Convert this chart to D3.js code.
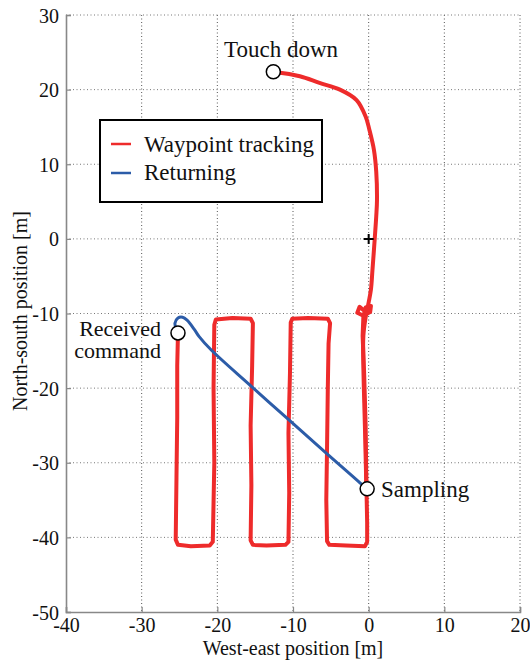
<!DOCTYPE html>
<html>
<head>
<meta charset="utf-8">
<script src="https://cdn.jsdelivr.net/npm/d3@7"></script>
<style>
  body { margin: 0; background: #fff; }
  text { font-family: "Liberation Serif", "Times New Roman", serif; fill: #111; }
</style>
</head>
<body>
<div id="container"></div>
<script>
// tick values
const xTicks = [-40, -30, -20, -10, 0, 10, 20];
const yTicks = [-50, -40, -30, -20, -10, 0, 10, 20, 30];

// waypoint tracking, first leg (lawnmower pattern), [east, north] in m
const trackA = [
  [-0.4, -9.8], [-1.2, -9.1], [-1.5, -9.9], [-0.7, -10.3], [0.2, -9.8], [0.3, -9.0],
  [-0.4, -9.2], [-0.7, -10.4], [-0.8, -13], [-0.6, -18], [-0.4, -25], [-0.3, -33],
  [-0.2, -38], [-0.2, -40.6], [-0.5, -41.2], [-3, -41.1], [-5.2, -41.0], [-5.5, -40.5],
  [-5.6, -35], [-5.5, -28], [-5.4, -20], [-5.3, -14], [-5.1, -11.3], [-5.4, -10.7],
  [-8, -10.6], [-10.1, -10.7], [-10.3, -11.2], [-10.4, -18], [-10.6, -26], [-10.5, -34],
  [-10.6, -40.6], [-11, -41.0], [-13.5, -41.1], [-15.3, -41.0], [-15.6, -40.4],
  [-15.5, -33], [-15.6, -25], [-15.4, -17], [-15.3, -11.3], [-15.6, -10.7], [-18, -10.6],
  [-20.2, -10.8], [-20.4, -11.5], [-20.5, -20], [-20.4, -30], [-20.6, -40.6],
  [-21, -41.1], [-23.5, -41.2], [-25.2, -41.0], [-25.5, -40.3], [-25.4, -32],
  [-25.3, -24], [-25.3, -17], [-25.2, -12.6]
];

// waypoint tracking, second leg (sampling to touch down)
const trackB = [
  [-0.3, -33.5], [-0.5, -25], [-0.7, -17], [-0.7, -13], [-0.4, -10.5], [0.0, -8.5],
  [0.3, -6.8], [0.5, -4.2], [0.8, 0], [1.0, 3], [1.1, 5.2], [1.0, 9], [0.7, 11.9],
  [0.1, 14.6], [-0.4, 16.4], [-1.6, 18.6], [-3.8, 20.0], [-6.5, 20.9], [-9.1, 21.8],
  [-12.6, 22.4]
];

// returning
const returning = [
  [-25.4, -12.2], [-25.6, -11.3], [-25.2, -10.6], [-24.6, -10.5], [-24.0, -10.9],
  [-23.0, -12.2], [-22.4, -13.1], [-20.8, -14.9], [-15.8, -19.5], [-10.5, -24.3],
  [-5.5, -28.8], [-0.8, -33.0], [-0.3, -33.5]
];

// event markers
const events = [
  { name: "Touch down", x: -12.6, y: 22.4 },
  { name: "Received command", x: -25.2, y: -12.6 },
  { name: "Sampling", x: -0.2, y: -33.5 }
];

const width = 530;
const height = 664;
const marginLeft = 66;
const marginRight = 10;
const marginTop = 15;
const marginBottom = 52;
const serif = "'Liberation Serif', 'Times New Roman', serif";

const x = d3.scaleLinear().domain([-40, 20]).range([marginLeft, width - marginRight]);
const y = d3.scaleLinear().domain([-50, 30]).range([height - marginBottom, marginTop]);

const svg = d3.create("svg")
    .attr("width", width)
    .attr("height", height)
    .style("font-family", serif);

// grid
svg.append("g")
    .selectAll("line")
    .data(xTicks.slice(1))
    .join("line")
    .attr("x1", d => x(d)).attr("x2", d => x(d))
    .attr("y1", y(30)).attr("y2", y(-50))
    .attr("stroke", "#555")
    .attr("stroke-dasharray", "1,2.5");

svg.append("g")
    .selectAll("line")
    .data(yTicks.slice(1))
    .join("line")
    .attr("x1", x(-40)).attr("x2", x(20))
    .attr("y1", d => y(d)).attr("y2", d => y(d))
    .attr("stroke", "#777")
    .attr("stroke-dasharray", "1,2.5");

// axes
const xAxis = svg.append("g")
    .attr("transform", `translate(0,${y(-50)})`)
    .call(d3.axisBottom(x).tickValues(xTicks).tickSize(-5).tickPadding(6).tickFormat(d => String(d)));
const yAxis = svg.append("g")
    .attr("transform", `translate(${x(-40)},0)`)
    .call(d3.axisLeft(y).tickValues(yTicks).tickSize(-5).tickPadding(7).tickFormat(d => String(d)));

[xAxis, yAxis].forEach(g => {
    g.attr("font-family", null);
    g.select(".domain").attr("stroke", "#888").attr("stroke-width", 1.6);
    g.selectAll(".tick line").attr("stroke", "#888").attr("stroke-width", 1.2);
    g.selectAll(".tick text")
        .style("font-family", serif)
        .attr("font-size", 20)
        .attr("fill", "#111");
});
yAxis.selectAll(".tick text").attr("dy", "0.35em");

svg.append("text")
    .attr("x", x(-10))
    .attr("y", 655)
    .attr("text-anchor", "middle")
    .attr("font-size", 20)
    .text("West-east position [m]");

svg.append("text")
    .attr("transform", `translate(27,311) rotate(-90)`)
    .attr("text-anchor", "middle")
    .attr("font-size", 20)
    .text("North-south position [m]");

// tracks
const line = d3.line().x(d => x(d[0])).y(d => y(d[1]));
const smooth = d3.line().x(d => x(d[0])).y(d => y(d[1])).curve(d3.curveCatmullRom.alpha(0.5));

const red = "#ee2b2b";
const blue = "#2c5ca8";

svg.append("path")
    .attr("d", line(trackA))
    .attr("fill", "none")
    .attr("stroke", red)
    .attr("stroke-width", 4)
    .attr("stroke-linejoin", "round");

svg.append("path")
    .attr("d", smooth(trackB))
    .attr("fill", "none")
    .attr("stroke", red)
    .attr("stroke-width", 4)
    .attr("stroke-linejoin", "round");

svg.append("path")
    .attr("d", smooth(returning))
    .attr("fill", "none")
    .attr("stroke", blue)
    .attr("stroke-width", 3)
    .attr("stroke-linejoin", "round");

// origin cross
svg.append("path")
    .attr("d", `M${x(0) - 5},${y(0)}h10M${x(0)},${y(0) - 5}v10`)
    .attr("stroke", "#000")
    .attr("stroke-width", 2);

// event circles
svg.append("g")
    .selectAll("circle")
    .data(events)
    .join("circle")
    .attr("cx", d => x(d.x))
    .attr("cy", d => y(d.y))
    .attr("r", 7)
    .attr("fill", "#fff")
    .attr("stroke", "#000")
    .attr("stroke-width", 1.5);

svg.append("text")
    .attr("x", 224)
    .attr("y", 57)
    .attr("font-size", 23)
    .text("Touch down");

const rc = svg.append("text")
    .attr("text-anchor", "end")
    .attr("font-size", 22);
rc.append("tspan").attr("x", 161).attr("y", 336).text("Received");
rc.append("tspan").attr("x", 161).attr("y", 358).text("command");

svg.append("text")
    .attr("x", 381)
    .attr("y", 497)
    .attr("font-size", 23)
    .text("Sampling");

// legend
const legend = svg.append("g").attr("transform", "translate(100,120)");
legend.append("rect")
    .attr("width", 222)
    .attr("height", 82)
    .attr("fill", "#fff")
    .attr("stroke", "#000")
    .attr("stroke-width", 2);

const legendItems = [
    { label: "Waypoint tracking", color: red },
    { label: "Returning", color: blue }
];
legendItems.forEach((d, i) => {
    legend.append("line")
        .attr("x1", 11).attr("x2", 31)
        .attr("y1", 24 + i * 29).attr("y2", 24 + i * 29)
        .attr("stroke", d.color)
        .attr("stroke-width", 2.5);
    legend.append("text")
        .attr("x", 44)
        .attr("y", 32 + i * 28)
        .attr("font-size", 23)
        .text(d.label);
});

d3.select("#container").append(() => svg.node());
</script>
</body>
</html>
